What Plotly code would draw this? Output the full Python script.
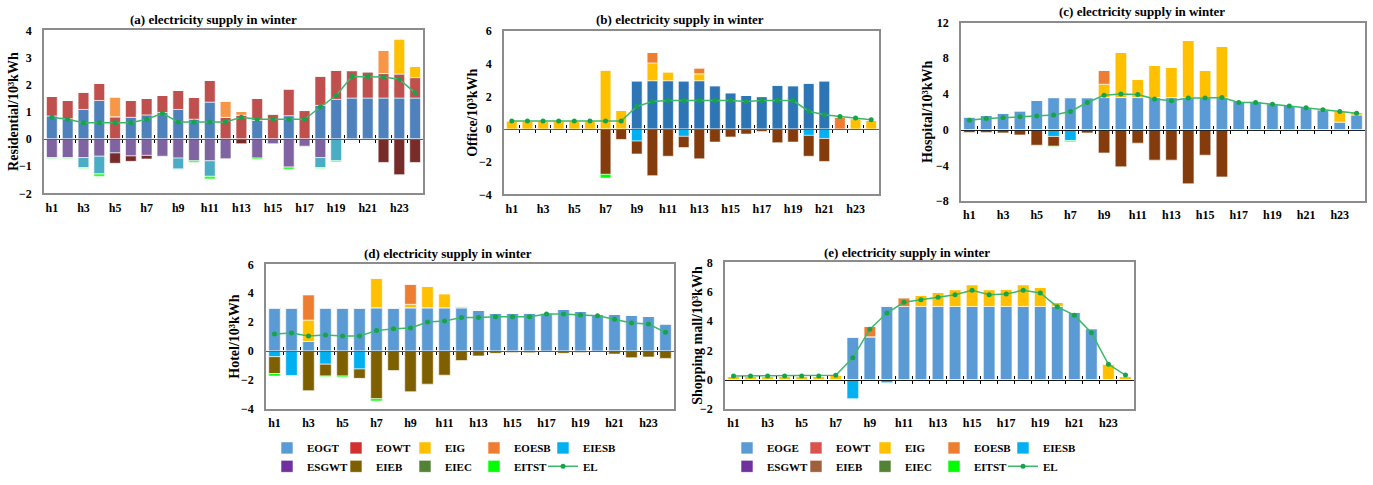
import plotly.graph_objects as go

W, H = 1373, 485
FONT = "Liberation Serif"

hours = ["h1", "h2", "h3", "h4", "h5", "h6", "h7", "h8", "h9", "h10", "h11", "h12",
         "h13", "h14", "h15", "h16", "h17", "h18", "h19", "h20", "h21", "h22", "h23", "h24"]
label_hours = ["h1", "h3", "h5", "h7", "h9", "h11", "h13", "h15", "h17", "h19", "h21", "h23"]
Z = [0] * 24

# ---------------- (a) Residential ----------------
a_EOGT = [0.85, 0.75, 1.09, 1.42, 0, 0.8, 0.89, 0.98, 1.09, 0.73, 1.36, 0, 0, 0.69, 0, 0.86, 0, 1.24, 1.46, 1.51, 1.51, 1.51, 1.51, 1.51]
a_EOWT = [0.72, 0.68, 0.64, 0.63, 0.82, 0.63, 0.61, 0.63, 0.7, 0.81, 0.8, 0.8, 0.88, 0.81, 0.93, 0.99, 1.05, 1.08, 1.08, 1.01, 0.97, 0.9, 0.88, 0.75]
a_EIG = [0, 0, 0, 0, 0, 0, 0, 0, 0, 0, 0, 0, 0, 0, 0, 0, 0, 0, 0, 0, 0, 0, 1.3, 0.41]
a_EOESB = [0, 0, 0, 0, 0.73, 0, 0, 0, 0, 0, 0, 0.6, 0.14, 0, 0, 0, 0, 0, 0, 0, 0, 0.86, 0, 0]
a_ESGWT = [-0.68, -0.68, -0.68, -0.63, -0.51, -0.62, -0.6, -0.63, -0.7, -0.8, -0.8, -0.72, 0, -0.7, -0.17, -1.03, -0.26, -0.68, 0, 0, 0, 0, 0, 0]
a_EIESB = [0, 0, -0.37, -0.65, 0, 0, 0, 0, -0.4, 0, -0.57, 0, 0, 0, 0, 0, 0, -0.37, -0.8, 0, 0, 0, 0, 0]
a_EIEB = [0, 0, 0, 0, -0.38, -0.2, -0.13, 0, 0, 0, 0, 0, -0.17, 0, 0, 0, 0, 0, 0, 0, 0, -0.86, -1.31, -0.86]
a_EITST = [-0.03, -0.03, -0.03, -0.1, 0, 0, 0, 0, -0.02, -0.06, -0.1, 0, 0, -0.05, 0, -0.09, 0, -0.03, -0.04, -0.03, -0.03, 0, 0, 0]
a_EL = [0.8, 0.73, 0.6, 0.6, 0.6, 0.6, 0.73, 0.95, 0.63, 0.63, 0.63, 0.63, 0.8, 0.73, 0.73, 0.73, 0.73, 1.18, 1.6, 2.3, 2.3, 2.28, 2.2, 1.7]

# ---------------- (b) Office ----------------
b_EOGT = [0, 0, 0, 0, 0, 0, 0, 0, 2.97, 2.97, 2.97, 2.97, 2.97, 2.67, 2.24, 2.08, 2.0, 2.71, 2.67, 2.83, 2.97, 0, 0, 0]
b_EIG = [0.52, 0.52, 0.52, 0.52, 0.52, 0.52, 3.62, 1.15, 0, 1.09, 0.55, 0, 0.42, 0, 0, 0, 0, 0, 0, 0, 0, 0, 0.65, 0.55]
b_EOESB = [0, 0, 0, 0, 0, 0, 0, 0, 0, 0.65, 0, 0, 0.37, 0, 0, 0, 0, 0, 0, 0, 0, 0.75, 0, 0]
b_EIESB = [0, 0, 0, 0, 0, 0, 0, 0, -0.73, 0, 0, -0.44, 0, 0, 0, 0, 0, 0, 0, -0.38, -0.57, 0, 0, 0]
b_EIEB = [0, 0, 0, 0, 0, 0, -2.77, -0.63, -0.79, -2.85, -1.66, -0.69, -1.82, -0.79, -0.48, -0.3, -0.14, -0.83, -0.79, -1.28, -1.41, 0, 0, 0]
b_EITST = [0, 0, 0, 0, 0, 0, -0.23, 0, 0, 0, 0, 0, 0, 0, 0, 0, 0, 0, 0, 0, 0, 0, 0, 0]
b_EL = [0.5, 0.5, 0.5, 0.5, 0.5, 0.5, 0.5, 0.5, 1.39, 1.7, 1.75, 1.75, 1.75, 1.75, 1.75, 1.7, 1.75, 1.75, 1.75, 1.1, 0.88, 0.78, 0.68, 0.58]

# ---------------- (c) Hospital ----------------
c_EOGT = [1.45, 1.63, 1.88, 2.13, 3.3, 3.6, 3.6, 3.6, 3.6, 3.6, 3.6, 3.6, 3.6, 3.6, 3.6, 3.6, 3.22, 3.22, 3.0, 2.72, 2.5, 2.25, 0.85, 1.65]
c_EIG = [0, 0, 0, 0, 0, 0, 0, 0, 1.5, 5.05, 2.08, 3.6, 3.38, 6.4, 3.05, 5.75, 0, 0, 0, 0, 0, 0, 1.28, 0.3]
c_EOESB = [0, 0, 0, 0, 0, 0, 0, 0, 1.55, 0, 0, 0, 0, 0, 0, 0, 0, 0, 0, 0, 0, 0, 0, 0]
c_EIESB = [0, 0, 0, 0, 0, -0.75, -1.2, 0, 0, 0, 0, 0, 0, 0, 0, 0, 0, 0, 0, 0, 0, 0, 0, 0]
c_EIEB = [-0.3, -0.3, -0.35, -0.58, -1.73, -1.1, 0, -0.35, -2.6, -4.15, -1.5, -3.4, -3.4, -6.05, -2.85, -5.28, 0, 0, 0, 0, 0, 0, 0, 0]
c_EITST = [0, 0, 0, 0, 0, -0.06, -0.15, 0, 0, 0, 0, 0, 0, 0, 0, 0, -0.08, -0.08, -0.08, 0, 0, -0.06, 0, 0]
c_EL = [1.05, 1.25, 1.35, 1.45, 1.55, 1.65, 2.05, 3.05, 3.85, 4.0, 3.95, 3.45, 3.25, 3.55, 3.55, 3.62, 3.05, 3.05, 2.85, 2.65, 2.45, 2.25, 2.05, 1.85]

# ---------------- (d) Hotel ----------------
d_EOGT = [3.0, 3.0, 0.67, 3.0, 3.0, 3.0, 3.0, 3.0, 3.0, 3.0, 3.0, 3.0, 2.82, 2.65, 2.65, 2.65, 2.6, 2.88, 2.75, 2.57, 2.57, 2.5, 2.4, 1.9]
d_EIG = [0, 0, 1.48, 0, 0, 0, 2.06, 0, 0.24, 1.5, 0.98, 0.13, 0, 0, 0, 0, 0, 0, 0, 0, 0, 0, 0, 0]
d_EOESB = [0, 0, 1.76, 0, 0, 0, 0, 0, 1.41, 0, 0, 0, 0, 0, 0, 0, 0.08, 0, 0, 0, 0, 0, 0, 0]
d_EIESB = [-0.38, -1.68, 0, -0.9, 0, -1.23, 0, 0, 0, 0, 0, 0, 0, 0, 0, -0.03, 0, 0, 0, 0, 0, 0, 0, 0]
d_EIEB = [-1.17, 0, -2.73, -0.82, -1.72, -0.65, -3.29, -1.34, -2.8, -2.28, -1.66, -0.65, -0.33, -0.15, -0.1, -0.08, 0, -0.15, -0.1, 0, -0.2, -0.45, -0.4, -0.5]
d_EITST = [-0.17, -0.04, 0, -0.05, -0.08, 0, -0.15, 0, 0, 0, 0, 0, 0, 0, 0, 0, 0, 0, 0, 0, 0, 0, 0, 0]
d_EL = [1.18, 1.25, 1.05, 1.12, 1.05, 1.05, 1.42, 1.55, 1.6, 2.02, 2.08, 2.32, 2.32, 2.38, 2.38, 2.38, 2.57, 2.57, 2.5, 2.45, 2.2, 1.95, 1.88, 1.3]

# ---------------- (e) Shopping mall ----------------
e_EOGE = [0, 0, 0, 0, 0, 0, 0, 2.93, 2.93, 5.04, 5.0, 5.0, 5.0, 5.0, 5.0, 5.0, 5.0, 5.0, 5.0, 5.0, 4.6, 3.49, 0, 0]
e_EIG = [0.22, 0.22, 0.22, 0.22, 0.22, 0.22, 0.3, 0, 0, 0, 0, 0.78, 0.96, 1.15, 1.49, 1.15, 1.2, 1.49, 1.31, 0.27, 0, 0, 1.09, 0.22]
e_EOESB = [0, 0, 0, 0, 0, 0, 0, 0, 0.71, 0, 0.6, 0, 0, 0, 0, 0, 0, 0, 0, 0, 0, 0, 0, 0]
e_EIESB = [0, 0, 0, 0, 0, 0, 0, -1.29, 0, -0.2, 0, 0, 0, 0, 0, 0, 0, 0, 0, 0, 0, 0, 0, 0]
e_EL = [0.25, 0.25, 0.25, 0.25, 0.25, 0.25, 0.3, 1.5, 3.45, 4.55, 5.28, 5.45, 5.62, 5.8, 6.1, 5.8, 5.85, 6.1, 5.92, 4.97, 4.4, 3.2, 1.05, 0.32]

STACK_ORDER = ["EOGT", "EOWT", "EIG", "EOESB", "ESGWT", "EIESB", "EIEB", "EIEC", "EITST"]
ROW1 = ["EOGT", "EOWT", "EIG", "EOESB", "EIESB"]
LEG_RANK = {"EOGT": 1, "EOWT": 2, "EIG": 3, "EOESB": 4, "EIESB": 5,
            "ESGWT": 6, "EIEB": 7, "EIEC": 8, "EITST": 9, "EL": 10}

panels = [
    dict(title="(a) electricity supply in winter", ylabel="Residential/10³kWh",
         box=(44, 423, 24, 192), yrange=(-2, 4), dtick=1, tpos=(214, 13), ylab_x=14,
         data={"EOGT": a_EOGT, "EOWT": a_EOWT, "EIG": a_EIG, "EOESB": a_EOESB, "ESGWT": a_ESGWT,
               "EIESB": a_EIESB, "EIEB": a_EIEB, "EITST": a_EITST}, el=a_EL,
         colors={"EOGT": "#4F81BD", "EOWT": "#C0504D", "EIG": "#FFC000", "EOESB": "#F79646",
                 "ESGWT": "#8064A2", "EIESB": "#4BACC6", "EIEB": "#772C2A", "EITST": "#33FF33"},
         leg_base=None, names={}),
    dict(title="(b) electricity supply in winter", ylabel="Office/10³kWh",
         box=(504, 879, 25, 193), yrange=(-4, 6), dtick=2, tpos=(680, 13), ylab_x=473,
         data={"EOGT": b_EOGT, "EIG": b_EIG, "EOESB": b_EOESB, "EIESB": b_EIESB,
               "EIEB": b_EIEB, "EITST": b_EITST}, el=b_EL,
         colors={"EOGT": "#2E75B6", "EIG": "#FFC000", "EOESB": "#ED7D31", "EIESB": "#00B0F0",
                 "EIEB": "#843C0C", "EITST": "#00FF00"},
         leg_base=None, names={}),
    dict(title="(c) electricity supply in winter", ylabel="Hospital/10³kWh",
         box=(961, 1365, 16, 200), yrange=(-8, 12), dtick=4, tpos=(1142, 5), ylab_x=928,
         data={"EOGT": c_EOGT, "EIG": c_EIG, "EOESB": c_EOESB, "EIESB": c_EIESB,
               "EIEB": c_EIEB, "EITST": c_EITST}, el=c_EL,
         colors={"EOGT": "#5B9BD5", "EIG": "#FFC000", "EOESB": "#ED7D31", "EIESB": "#00B0F0",
                 "EIEB": "#843C0C", "EITST": "#00FF00"},
         leg_base=None, names={}),
    dict(title="(d) electricity supply in winter", ylabel="Hotel/10³kWh",
         box=(266, 674, 265, 414), yrange=(-4, 6), dtick=2, tpos=(448, 254), ylab_x=235,
         data={"EOGT": d_EOGT, "EOWT": Z, "EIG": d_EIG, "EOESB": d_EOESB, "ESGWT": Z,
               "EIESB": d_EIESB, "EIEB": d_EIEB, "EIEC": Z, "EITST": d_EITST}, el=d_EL,
         colors={"EOGT": "#5B9BD5", "EOWT": "#D32F2F", "EIG": "#FFC000", "EOESB": "#ED7D31",
                 "ESGWT": "#7030A0", "EIESB": "#00B0F0", "EIEB": "#7F6000", "EIEC": "#548235",
                 "EITST": "#00FF00"},
         leg_base=(1, 267), names={}),
    dict(title="(e) electricity supply in winter", ylabel="Shopping mall/10³kWh",
         box=(725, 1134, 263, 414), yrange=(-2, 8), dtick=2, tpos=(907, 253), ylab_x=698,
         data={"EOGT": e_EOGE, "EOWT": Z, "EIG": e_EIG, "EOESB": e_EOESB, "ESGWT": Z,
               "EIESB": e_EIESB, "EIEB": Z, "EIEC": Z, "EITST": Z}, el=e_EL,
         colors={"EOGT": "#5B9BD5", "EOWT": "#D9534F", "EIG": "#FFC000", "EOESB": "#ED7D31",
                 "ESGWT": "#7030A0", "EIESB": "#00B0F0", "EIEB": "#A0603C", "EIEC": "#548235",
                 "EITST": "#00FF00"},
         leg_base=(7, 727), names={"EOGT": "EOGE"}),
]


def legend_id(n):
    return "legend" if n == 1 else f"legend{n}"


def legend_for(p, key):
    # row 1: one legend per entry (n0 .. n0+4); row 2: one legend (n0+5)
    if p["leg_base"] is None:
        return None
    n0 = p["leg_base"][0]
    if key in ROW1:
        return legend_id(n0 + ROW1.index(key))
    return legend_id(n0 + 5)


BOX = "#8C8C8C"
STEP = 69
fig = go.Figure()
layout = {}
annotations = []

for i, p in enumerate(panels, start=1):
    xs = "x" if i == 1 else f"x{i}"
    ys = "y" if i == 1 else f"y{i}"
    show = p["leg_base"] is not None
    for key in STACK_ORDER:
        if key not in p["data"]:
            continue
        fig.add_trace(go.Bar(
            x=hours, y=p["data"][key], name=p["names"].get(key, key),
            marker=dict(color=p["colors"][key], line=dict(width=0.8, color="rgba(255,255,255,0.75)")),
            xaxis=xs, yaxis=ys, showlegend=show, legend=legend_for(p, key),
            legendrank=LEG_RANK[key]))
    fig.add_trace(go.Scatter(
        x=hours, y=p["el"], name="EL", mode="lines+markers",
        line=dict(color="#3DB86B", width=1.5), marker=dict(color="#16A34A", size=5),
        xaxis=xs, yaxis=ys, showlegend=show, legend=legend_for(p, "EL"),
        legendrank=LEG_RANK["EL"]))

    x0, x1, y0, y1 = p["box"]
    dx = [x0 / W, x1 / W]
    dy = [1 - y1 / H, 1 - y0 / H]
    r0, r1 = p["yrange"]
    zp = dy[0] + (0 - r0) / (r1 - r0) * (dy[1] - dy[0])
    xa = "xaxis" if i == 1 else f"xaxis{i}"
    ya = "yaxis" if i == 1 else f"yaxis{i}"
    layout[xa] = dict(domain=dx, anchor=ys, type="category", categoryorder="array",
                      categoryarray=hours, range=[-0.5, 23.5], tickmode="array",
                      tickvals=label_hours, ticks="", showline=True, mirror=True,
                      linecolor=BOX, linewidth=1.5, showgrid=False, zeroline=False,
                      tickfont=dict(family=FONT, size=12, color="black"),
                      ticklabelstandoff=2)
    layout[ya] = dict(domain=dy, anchor=xs, range=[r0, r1], dtick=p["dtick"], tick0=0,
                      ticks="", showline=True, mirror=True, linecolor=BOX, linewidth=1.5,
                      showgrid=False, zeroline=False,
                      tickfont=dict(family=FONT, size=12, color="black"),
                      ticklabelstandoff=8)
    # zero axis with crossing tick marks at category boundaries
    tickpos = [k + 0.5 for k in range(23)]
    eps = 0.0008
    j, k = 5 + i, 10 + i
    layout[f"yaxis{j}"] = dict(domain=[zp, zp + eps], anchor=f"x{j}", range=[0, 1], visible=False)
    layout[f"xaxis{j}"] = dict(domain=dx, anchor=f"y{j}", side="bottom", range=[-0.5, 23.5],
                               tickmode="array", tickvals=tickpos, ticks="outside", ticklen=3,
                               tickwidth=1, tickcolor="black", showticklabels=False,
                               showline=True, linecolor="black", linewidth=1.3,
                               showgrid=False, zeroline=False)
    layout[f"yaxis{k}"] = dict(domain=[zp - eps, zp], anchor=f"x{k}", range=[0, 1], visible=False)
    layout[f"xaxis{k}"] = dict(domain=dx, anchor=f"y{k}", side="top", range=[-0.5, 23.5],
                               tickmode="array", tickvals=tickpos, ticks="outside", ticklen=3,
                               tickwidth=1, tickcolor="black", showticklabels=False,
                               showline=False, showgrid=False, zeroline=False)
    # empty traces so the zero-axis subplots get drawn
    for n in (j, k):
        fig.add_trace(go.Scatter(x=[], y=[], xaxis=f"x{n}", yaxis=f"y{n}",
                                 showlegend=False, hoverinfo="skip"))
    annotations.append(dict(text=f"<b>{p['title']}</b>", x=p["tpos"][0] / W, y=1 - p["tpos"][1] / H,
                            xref="paper", yref="paper", showarrow=False, xanchor="center",
                            yanchor="middle", font=dict(family=FONT, size=13, color="black")))
    annotations.append(dict(text=f"<b>{p['ylabel']}</b>", x=p["ylab_x"] / W, y=(dy[0] + dy[1]) / 2,
                            xref="paper", yref="paper", showarrow=False, xanchor="center",
                            yanchor="middle", textangle=-90,
                            font=dict(family=FONT, size=14, color="black")))

    if show:
        n0, base = p["leg_base"]
        single = dict(orientation="h", xanchor="left", yanchor="middle", bgcolor="rgba(0,0,0,0)",
                      font=dict(family=FONT, size=11, color="black"))
        for m in range(5):
            layout[legend_id(n0 + m)] = dict(single, x=(base + m * STEP) / W, y=1 - 454 / H)
        layout[legend_id(n0 + 5)] = dict(single, x=base / W, y=1 - 473 / H, entrywidth=STEP - 45,
                                         entrywidthmode="pixels", traceorder="normal")

fig.update_layout(**layout)
fig.update_layout(
    width=W, height=H, margin=dict(l=0, r=0, t=0, b=0),
    paper_bgcolor="white", plot_bgcolor="white", barmode="relative", bargap=0.32,
    font=dict(family=FONT, size=12, color="black", weight="bold"),
    annotations=annotations,
)
fig.write_html("out.html")
